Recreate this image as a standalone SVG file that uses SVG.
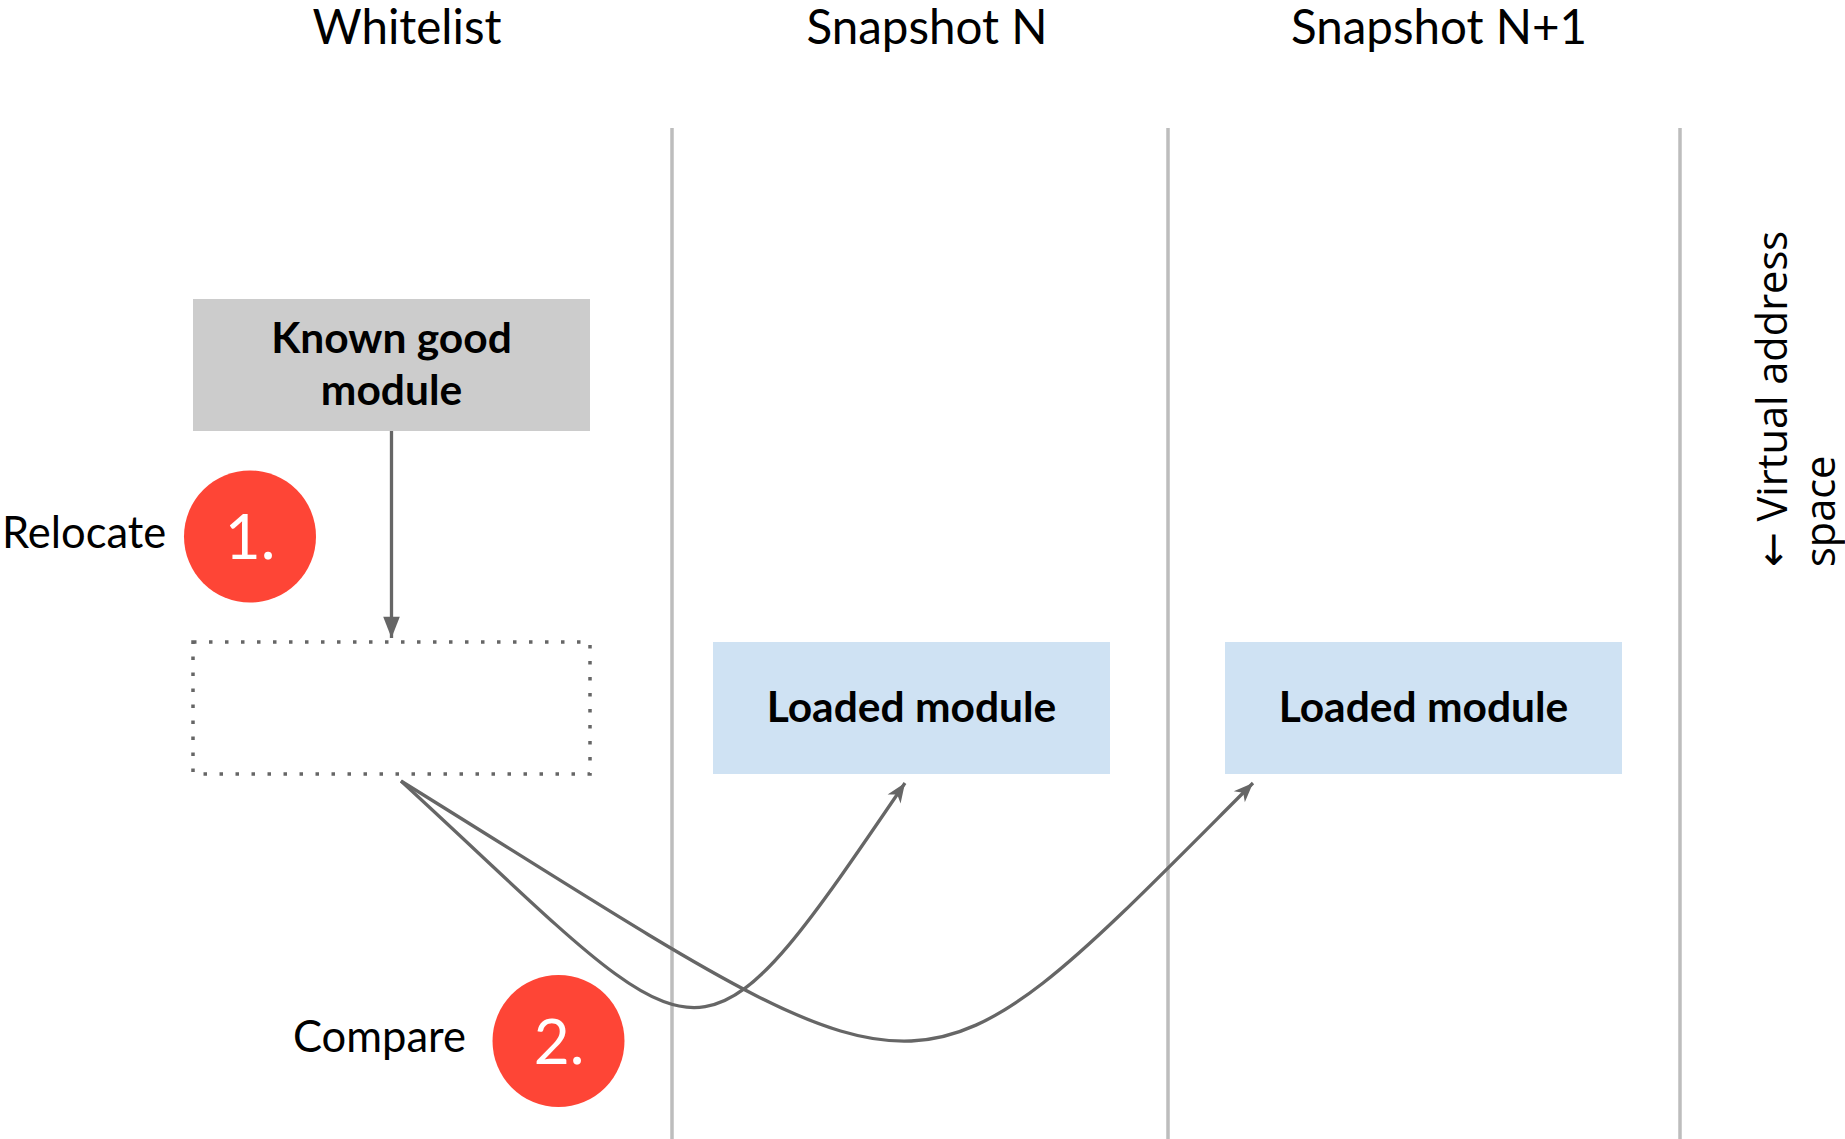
<svg xmlns="http://www.w3.org/2000/svg" width="1845" height="1139" viewBox="0 0 1845 1139">
  <style>
    .title { font-family: Lato, "Liberation Sans", sans-serif; font-size: 47.5px; fill: #000; text-anchor: middle; }
    .label { font-family: Lato, "Liberation Sans", sans-serif; font-size: 43.5px; fill: #000; }
    .boxtext { font-family: Lato, "Liberation Sans", sans-serif; font-weight: bold; font-size: 42.5px; fill: #000; text-anchor: middle; }
    .step { fill: #fe4536; }
    .steptext { font-family: Lato, "Liberation Sans", sans-serif; font-size: 62px; fill: #fff; text-anchor: middle; }
    .sep { stroke: #bdbdbd; stroke-width: 3.5; }
    .conn { fill: none; stroke: #666; stroke-width: 3.3; }
    .axis { font-family: "Open Sans", "Noto Sans", "DejaVu Sans", sans-serif; font-size: 41.5px; fill: #000; }
  </style>
  <defs>
    <marker id="tri" markerUnits="userSpaceOnUse" markerWidth="24" markerHeight="24" viewBox="-24 -12 26 24" refX="0" refY="0" orient="auto">
      <path d="M0,0 L-23,-9 L-23,9 Z" fill="#666"/>
    </marker>
    <marker id="notch" markerUnits="userSpaceOnUse" markerWidth="24" markerHeight="24" viewBox="-24 -12 26 24" refX="0" refY="0" orient="auto">
      <path d="M0,0 L-21,-8.5 L-15,0 L-21,8.5 Z" fill="#666"/>
    </marker>
  </defs>

  <rect width="1845" height="1139" fill="#fff"/>

  <!-- column headers -->
  <g id="headers">
    <text class="title" x="407" y="44">Whitelist</text>
    <text class="title" x="927" y="44">Snapshot N</text>
    <text class="title" x="1439" y="44">Snapshot N+1</text>
  </g>

  <!-- column separators -->
  <g id="separators">
    <line class="sep" x1="672" y1="128" x2="672" y2="1139"/>
    <line class="sep" x1="1168" y1="128" x2="1168" y2="1139"/>
    <line class="sep" x1="1680" y1="128" x2="1680" y2="1139"/>
  </g>

  <g id="known-good">
    <rect x="193" y="299" width="397" height="132" fill="#cccccc"/>
    <text class="boxtext" x="391.5" y="353">Known good</text>
    <text class="boxtext" x="391.5" y="405">module</text>
  </g>

  <g id="relocated">
    <rect x="193" y="642" width="397" height="132" fill="none" stroke="#666" stroke-width="3.5" stroke-dasharray="3.5 12.5"/>
  </g>

  <g id="loaded-n">
    <rect x="713" y="642" width="397" height="132" fill="#cfe2f3"/>
    <text class="boxtext" x="911.5" y="722">Loaded module</text>
  </g>

  <g id="loaded-n1">
    <rect x="1225" y="642" width="397" height="132" fill="#cfe2f3"/>
    <text class="boxtext" x="1423.5" y="722">Loaded module</text>
  </g>

  <g id="step-1">
    <text class="label" x="2" y="548">Relocate</text>
    <circle class="step" cx="250" cy="536.5" r="66"/>
    <text class="steptext" x="250" y="559">1.</text>
  </g>

  <g id="step-2">
    <text class="label" x="293" y="1052">Compare</text>
    <circle class="step" cx="558.5" cy="1041" r="66"/>
    <text class="steptext" x="559" y="1064">2.</text>
  </g>

  <g id="axis-label">
    <text class="axis" transform="translate(1787,567) rotate(-90)">
      <tspan x="0" y="0">← Virtual address</tspan>
      <tspan x="0" y="48">space</tspan>
    </text>
  </g>

  <!-- connectors -->
  <g id="connectors">
    <path class="conn" d="M391.5,431 L391.5,638" marker-end="url(#tri)"/>
    <path class="conn" d="M401,781 C711,1066 690,1099 905,783" marker-end="url(#notch)"/>
    <path class="conn" d="M401,781 C948,1120 901,1135 1253,783" marker-end="url(#notch)"/>
  </g>
</svg>
